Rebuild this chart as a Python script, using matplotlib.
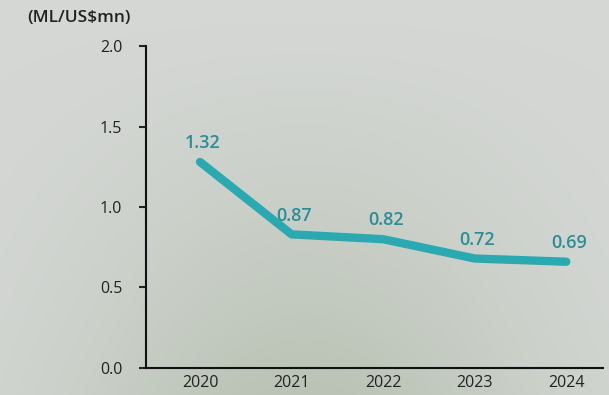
import numpy as np
import matplotlib.pyplot as plt

plt.rcParams['font.family'] = ['Open Sans', 'DejaVu Sans']

# data
years = [2020, 2021, 2022, 2023, 2024]
values = [1.28, 0.83, 0.80, 0.68, 0.66]   # line position
labels = ["1.32", "0.87", "0.82", "0.72", "0.69"]
yticks = [0.0, 0.5, 1.0, 1.5, 2.0]

fig = plt.figure(figsize=(6.09, 3.95), dpi=100)

# greyish photo-like background
bg = fig.add_axes([0, 0, 1, 1], zorder=0)
yy, xx = np.mgrid[0:1:200j, 0:1:300j]
top = np.array([0.835, 0.845, 0.835])
low = np.array([0.73, 0.765, 0.71])
w = (yy ** 1.3) * np.exp(-((xx - 0.5) ** 2) / 0.15)
img = top[None, None, :] * (1 - w[..., None]) + low[None, None, :] * w[..., None]
bg.imshow(img, aspect='auto', extent=[0, 1, 0, 1], origin='upper')
bg.axis('off')

ax = fig.add_axes([0.2397, 0.0684, 0.7503, 0.8151], zorder=1)
ax.patch.set_alpha(0)
ax.plot(years, values, color='#2aa9b1', lw=6, solid_capstyle='round', solid_joinstyle='round')
for x, y, t in zip(years, values, labels):
    ax.annotate(t, (x, y), xytext=(2, 7), textcoords='offset points',
                ha='center', va='bottom', fontsize=13, color='#2a8e96', fontweight='semibold')

ax.set_xlim(2019.41, 2024.40)
ax.set_ylim(0, 2.0)
ax.set_yticks(yticks)
ax.set_yticklabels([f"{v:.1f}" for v in yticks])
ax.set_xticks(years)
ax.set_xticklabels([str(y) for y in years])
ax.tick_params(axis='y', length=5, width=1.5, pad=12, labelsize=11.5, colors='#222222')
ax.tick_params(axis='x', length=0, pad=5, labelsize=11.5, colors='#222222')
for s in ['top', 'right']:
    ax.spines[s].set_visible(False)
for s in ['left', 'bottom']:
    ax.spines[s].set_linewidth(1.5)
    ax.spines[s].set_color('#111111')

fig.text(0.044, 0.955, "(ML/US$mn)", fontsize=12.5, fontweight='semibold',
         color='#222222', ha='left', va='center')

fig.savefig('out.png', dpi=100)
